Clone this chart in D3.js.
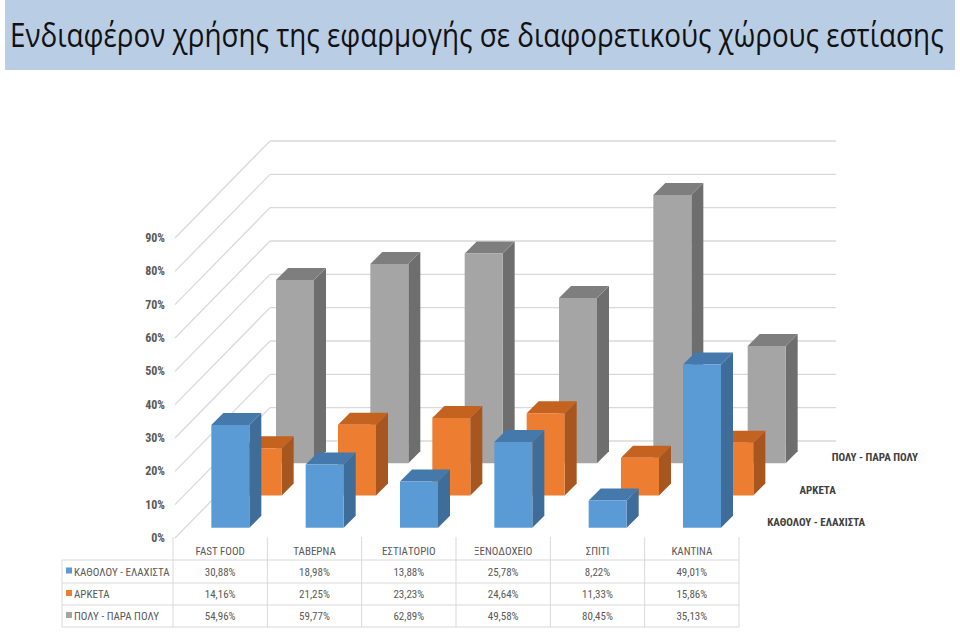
<!DOCTYPE html>
<html>
<head>
<meta charset="utf-8">
<script src="https://d3js.org/d3.v7.min.js"></script>
<style>
  body { margin: 0; background: #fff; }
  svg { display: block; }
  .cond { font-family: "Liberation Sans Narrow", "Arial Narrow", "Roboto Condensed", "Liberation Sans", sans-serif; }
</style>
</head>
<body>
<svg></svg>
<script>
// chart data
var categories = ['FAST FOOD', 'ΤΑΒΕΡΝΑ', 'ΕΣΤΙΑΤΟΡΙΟ', 'ΞΕΝΟΔΟΧΕΙΟ', 'ΣΠΙΤΙ', 'ΚΑΝΤΙΝΑ'];
var seriesNames = ['ΚΑΘΟΛΟΥ - ΕΛΑΧΙΣΤΑ', 'ΑΡΚΕΤΑ', 'ΠΟΛΥ - ΠΑΡΑ ΠΟΛΥ'];
var katholou = [30.88, 18.98, 13.88, 25.78, 8.22, 49.01];
var arketa = [14.16, 21.25, 23.23, 24.64, 11.33, 15.86];
var poly = [54.96, 59.77, 62.89, 49.58, 80.45, 35.13];
var yTicks = [0, 10, 20, 30, 40, 50, 60, 70, 80, 90];
var title = 'Ενδιαφέρον χρήσης της εφαρμογής σε διαφορετικούς χώρους εστίασης';

var values = [katholou, arketa, poly];
var colors = [
  { front: '#5b9bd5', side: '#3e6d99', top: '#4679ab' },
  { front: '#ed7d31', side: '#a8561f', top: '#c4621f' },
  { front: '#a5a5a5', side: '#6e6e6e', top: '#7e7e7e' }
];

var W = 960, H = 632;
var svg = d3.select('svg').attr('width', W).attr('height', H);

// title band
svg.append('rect')
   .attr('x', 5).attr('y', 0).attr('width', 950).attr('height', 70)
   .attr('fill', '#b9cde5');
var tt = svg.append('text')
   .attr('x', 0).attr('y', 0)
   .attr('font-family', '"Open Sans", "Noto Sans", sans-serif')
   .attr('font-size', 32)
   .attr('fill', '#111')
   .text(title);
// squeeze it horizontally to the width it takes in the slide
var natural = tt.node().getComputedTextLength();
tt.attr('transform', 'translate(10,47) scale(' + (934 / natural) + ',1)');

// geometry of the pseudo 3d box
var y0 = 538;        // front floor line
var depth = 97;      // floor depth (45 degrees)
var x = d3.scaleBand().domain(categories).range([173, 739]);
var y = d3.scaleLinear().domain([0, 90]).range([0, 300]);
var z = d3.scaleBand().domain(seriesNames).range([0, depth]);
var barW = 38, barD = 12;

function P(px, v, pz) {
  return [px + pz, y0 - y(v) - pz];
}

var grid = svg.append('g').attr('stroke', '#d9d9d9').attr('stroke-width', 1.3).attr('fill', 'none');
// left wall diagonals
grid.selectAll('.diag')
    .data(yTicks)
    .enter().append('line')
    .attr('x1', function(d) { return P(175, d, 0)[0]; })
    .attr('y1', function(d) { return P(175, d, 0)[1]; })
    .attr('x2', function(d) { return P(173, d, depth)[0]; })
    .attr('y2', function(d) { return P(173, d, depth)[1]; });
// back wall lines
grid.selectAll('.back')
    .data(yTicks)
    .enter().append('line')
    .attr('x1', function(d) { return P(173, d, depth)[0]; })
    .attr('y1', function(d) { return P(173, d, depth)[1]; })
    .attr('x2', function(d) { return P(739, d, depth)[0]; })
    .attr('y2', function(d) { return P(739, d, depth)[1]; });

// y axis labels
svg.append('g').attr('class', 'cond')
   .selectAll('text')
   .data(yTicks)
   .enter().append('text')
   .attr('x', 165)
   .attr('y', function(d) { return y0 - y(d) + 4; })
   .attr('text-anchor', 'end')
   .attr('font-size', 12)
   .attr('font-weight', 'bold')
   .attr('fill', '#595959')
   .text(function(d) { return d + '%'; });

// bars, back row first
var rows = [2, 1, 0];
rows.forEach(function(r) {
  var zc = z(seriesNames[r]) + z.bandwidth() / 2;
  var zf = zc - barD / 2, zb = zc + barD / 2;
  var g = svg.append('g');
  categories.forEach(function(c, i) {
    var v = values[r][i];
    var xl = x(c) + x.bandwidth() / 2 - barW / 2, xr = xl + barW;
    var front = [P(xl, 0, zf), P(xr, 0, zf), P(xr, v, zf), P(xl, v, zf)];
    var side = [P(xr, 0, zf), P(xr, 0, zb), P(xr, v, zb), P(xr, v, zf)];
    var top = [P(xl, v, zf), P(xr, v, zf), P(xr, v, zb), P(xl, v, zb)];
    g.append('polygon').attr('points', side.join(' ')).attr('fill', colors[r].side);
    g.append('polygon').attr('points', top.join(' ')).attr('fill', colors[r].top);
    g.append('polygon').attr('points', front.join(' ')).attr('fill', colors[r].front);
  });
});

// series labels on the depth axis
svg.append('g').attr('class', 'cond')
   .selectAll('text')
   .data(seriesNames)
   .enter().append('text')
   .attr('x', function(d) { return 739 + z(d) + z.bandwidth() / 2 + 12; })
   .attr('y', function(d) { return y0 - z(d) - z.bandwidth() / 2 + 4; })
   .attr('font-size', 11)
   .attr('font-weight', 'bold')
   .attr('fill', '#404040')
   .text(function(d) { return d; });

// data table
var tbl = svg.append('g').attr('class', 'cond');
var rowY = [560, 583, 605, 627];
var tl = tbl.append('g').attr('stroke', '#d9d9d9').attr('stroke-width', 1);
tl.selectAll('.h')
  .data(rowY)
  .enter().append('line')
  .attr('x1', 62).attr('x2', 739)
  .attr('y1', function(d) { return d; }).attr('y2', function(d) { return d; });
var colEdges = categories.map(function(c) { return x(c); }).concat([739]);
tl.selectAll('.v')
  .data(colEdges)
  .enter().append('line')
  .attr('x1', function(d) { return d; }).attr('x2', function(d) { return d; })
  .attr('y1', 537).attr('y2', 627);
tl.append('line').attr('x1', 62).attr('x2', 62).attr('y1', 560).attr('y2', 627);

tbl.selectAll('.cat')
   .data(categories)
   .enter().append('text')
   .attr('x', function(d) { return x(d) + x.bandwidth() / 2; })
   .attr('y', 555)
   .attr('text-anchor', 'middle')
   .attr('font-size', 11)
   .attr('fill', '#595959')
   .text(function(d) { return d; });

seriesNames.forEach(function(s, r) {
  var cy = (rowY[r] + rowY[r + 1]) / 2;
  tbl.append('rect')
     .attr('x', 66).attr('y', cy - 4).attr('width', 6).attr('height', 6)
     .attr('fill', colors[r].front);
  tbl.append('text')
     .attr('x', 74).attr('y', cy + 4)
     .attr('font-size', 11)
     .attr('fill', '#595959')
     .text(s);
  tbl.selectAll('.val' + r)
     .data(values[r])
     .enter().append('text')
     .attr('x', function(d, i) { return x(categories[i]) + x.bandwidth() / 2; })
     .attr('y', cy + 4)
     .attr('text-anchor', 'middle')
     .attr('font-size', 11)
     .attr('fill', '#595959')
     .text(function(d) { return d.toFixed(2).replace('.', ',') + '%'; });
});
</script>
</body>
</html>
